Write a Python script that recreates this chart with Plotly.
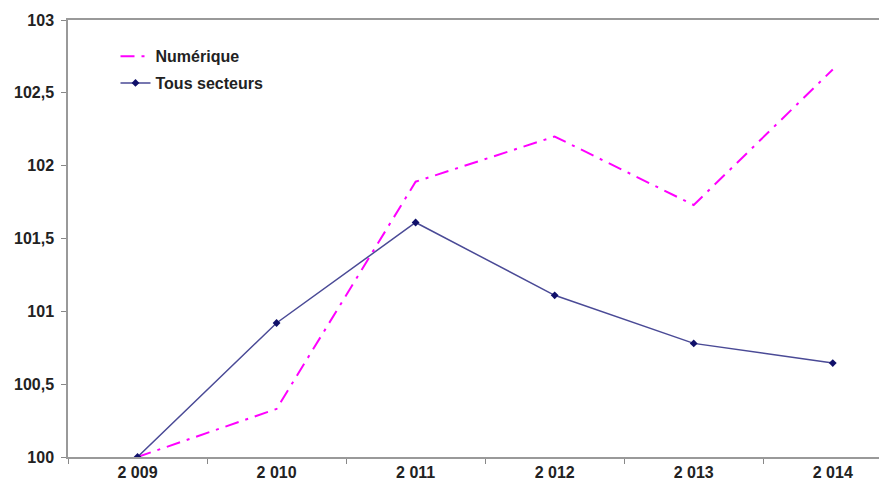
import plotly.graph_objects as go

annees = ['2 009', '2 010', '2 011', '2 012', '2 013', '2 014']
numerique = [100.0, 100.33, 101.89, 102.2, 101.73, 102.66]
tous_secteurs = [100.0, 100.92, 101.61, 101.11, 100.78, 100.645]

fig = go.Figure()
fig.add_trace(go.Scatter(x=annees, y=numerique, name='Numérique', mode='lines',
                         legendgroup='a',
                         line=dict(color='#ff00ff', width=2, dash='14px,7px,3px,7px')))
fig.add_trace(go.Scatter(x=annees, y=tous_secteurs, name='Tous secteurs', mode='lines+markers',
                         legendgroup='b',
                         line=dict(color='#4a4a96', width=1.5),
                         marker=dict(symbol='diamond', size=6, color='#10106a')))

# page body has an 8px margin, so the figure is sized to fit the 887x484 window
fig.update_layout(
    width=879, height=476,
    margin=dict(l=60, r=0, t=12, b=27),
    plot_bgcolor='white', paper_bgcolor='white',
    separators=', ',
    font=dict(family='Liberation Sans, Arial', size=16, color='#222222'),
    showlegend=True,
    legend=dict(x=0.058, y=0.956, xanchor='left', yanchor='top',
                font=dict(size=16, weight='bold'), bgcolor='rgba(0,0,0,0)',
                tracegroupgap=3, itemwidth=30),
)
fig.update_xaxes(type='category', range=[-0.5, 5.39], showgrid=False,
                 showline=True, linecolor='#999999', linewidth=1.5, mirror=True,
                 ticks='outside', ticklen=5, tickcolor='#888888', tickson='boundaries',
                 tickfont=dict(weight='bold', size=16), automargin=False)
fig.update_yaxes(range=[100, 103], dtick=0.5, showgrid=False, zeroline=False,
                 showline=True, linecolor='#999999', linewidth=1.5,
                 ticks='outside', ticklen=5, tickcolor='#888888', ticklabelstandoff=4,
                 tickfont=dict(weight='bold', size=16), automargin=False)

fig.write_html('out.html')
